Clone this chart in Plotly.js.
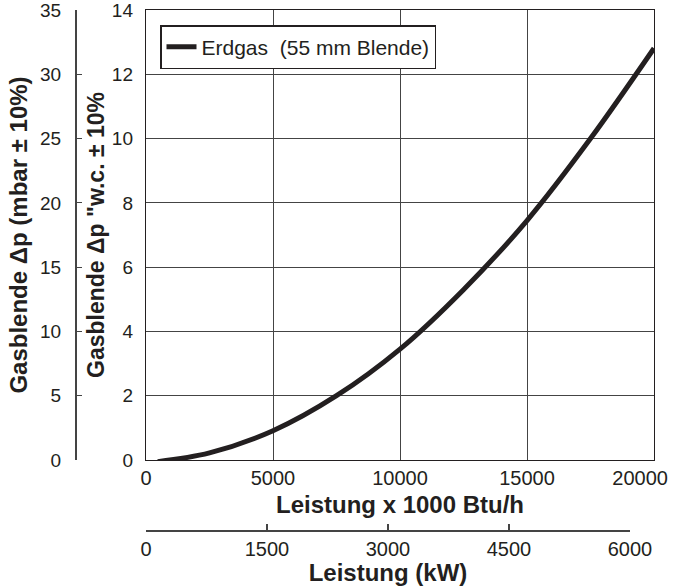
<!DOCTYPE html>
<html>
<head>
<meta charset="utf-8">
<script src="https://cdn.plot.ly/plotly-3.0.1.min.js"></script>
<style>html,body{margin:0;padding:0;background:#fff;}#chart{width:673px;height:587px;}</style>
</head>
<body>
<div id="chart"></div>
<script>
// Curve: Erdgas (55 mm Blende) — load in 1000 Btu/h vs. pressure drop in "w.c.
const loadBtu = [460, 2500, 5000, 7500, 10000, 12500, 15000, 17500, 20000];
const dpInWC  = [-0.05, 0.22, 0.91, 2.0, 3.45, 5.3, 7.45, 10.0, 12.81];
const seriesName = 'Erdgas\u00a0 (55 mm Blende)';

const btuTicks = [0, 5000, 10000, 15000, 20000];
const btuTickText = ['0', '5000', '10000', '15000', '20000\u00a0\u00a0\u00a0\u00a0\u00a0'];
const kwTicks = [0, 1500, 3000, 4500, 6000];
const inwcTicks = [0, 2, 4, 6, 8, 10, 12, 14];
const mbarTicks = [0, 5, 10, 15, 20, 25, 30, 35];

const xTitle = 'Leistung x 1000 Btu/h';
const x2Title = 'Leistung (kW)';
const yTitle = 'Gasblende \u0394p "w.c. \u00b1 10%';
const y2Title = 'Gasblende \u0394p (mbar \u00b1 10%)';

const W = 673, H = 587;
const ink = '#231f20';
const fontFam = 'Liberation Sans, Arial, Helvetica, sans-serif';
const xTickFont = {family: fontFam, size: 20, color: ink};
const yTickFont = {family: fontFam, size: 19, color: ink};
const xTitleFont = {family: fontFam, size: 24, color: ink, weight: 'bold'};
const yTitleFont = {family: fontFam, size: 23, color: ink, weight: 'bold'};
const y2TitleFont = {family: fontFam, size: 24, color: ink, weight: 'bold'};

const mT = 10, mB = 0;
const ph = H - mT - mB;
const px2x = p => p / W;
const px2y = p => (H - mB - p) / ph;

const data = [{
  type: 'scatter', mode: 'lines',
  x: loadBtu, y: dpInWC,
  name: seriesName,
  line: {color: ink, width: 5, shape: 'spline', smoothing: 1},
  xaxis: 'x', yaxis: 'y',
  showlegend: true
}, {
  // empty trace so that the secondary (kW / mbar) axes get drawn
  type: 'scatter', mode: 'lines', x: [], y: [],
  xaxis: 'x2', yaxis: 'y2', showlegend: false, hoverinfo: 'skip'
}];

const layout = {
  width: W, height: H,
  margin: {l: 0, r: 0, t: mT, b: mB, pad: 0},
  paper_bgcolor: '#fff', plot_bgcolor: 'rgba(0,0,0,0)',
  showlegend: true,
  font: {family: fontFam, color: ink},
  legend: {
    x: px2x(160), y: px2y(25), xanchor: 'left', yanchor: 'top',
    bgcolor: '#fff', bordercolor: ink, borderwidth: 1.5,
    font: {family: fontFam, size: 21, color: ink},
    tracegroupgap: 0
  },
  xaxis: {
    domain: [px2x(146), px2x(654)],
    anchor: 'y',
    range: [0, 20000],
    tickvals: btuTicks, ticktext: btuTickText,
    ticks: '', showline: true, mirror: true, linecolor: ink, linewidth: 1.2,
    showgrid: true, gridcolor: '#444', gridwidth: 1,
    zeroline: false, ticklabeloverflow: 'allow',
    tickfont: xTickFont,
    title: {text: xTitle, font: xTitleFont, standoff: 8}
  },
  yaxis: {
    domain: [px2y(460), 1],
    anchor: 'x',
    range: [0, 14],
    tickvals: inwcTicks,
    ticks: '', showline: true, mirror: true, linecolor: ink, linewidth: 1.2,
    showgrid: true, gridcolor: '#444', gridwidth: 1,
    zeroline: false, ticklabeloverflow: 'allow',
    tickfont: yTickFont,
    ticklabelstandoff: 8,
    title: {text: yTitle, font: yTitleFont, standoff: 0}
  },
  xaxis2: {
    domain: [px2x(146), px2x(630)],
    anchor: 'free', position: px2y(530),
    side: 'bottom',
    range: [0, 6000],
    tickvals: kwTicks,
    ticks: 'inside', ticklen: 6, tickcolor: '#444', tickwidth: 1.2,
    showline: true, linecolor: '#444', linewidth: 1.5,
    showgrid: false, zeroline: false, ticklabeloverflow: 'allow',
    tickfont: xTickFont,
    title: {text: x2Title, font: xTitleFont, standoff: 4}
  },
  yaxis2: {
    domain: [px2y(460), 1],
    anchor: 'free', position: px2x(75),
    side: 'left',
    range: [0, 35],
    tickvals: mbarTicks,
    ticks: 'inside', ticklen: 5, tickcolor: '#444', tickwidth: 1.2,
    showline: true, linecolor: '#444', linewidth: 1.5,
    showgrid: false, zeroline: false, ticklabeloverflow: 'allow',
    tickfont: yTickFont,
    ticklabelstandoff: 10,
    title: {text: y2Title, font: y2TitleFont, standoff: 4}
  }
};

Plotly.newPlot('chart', data, layout, {staticPlot: true, displayModeBar: false});
</script>
</body>
</html>
